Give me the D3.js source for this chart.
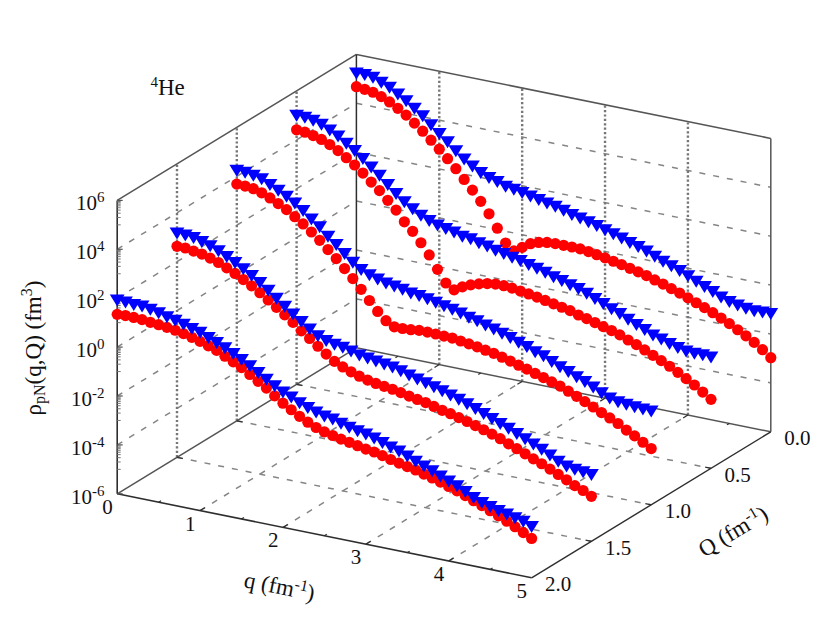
<!DOCTYPE html>
<html><head><meta charset="utf-8">
<script src="https://cdn.jsdelivr.net/npm/d3@7"></script>
<style>
html,body{margin:0;padding:0;background:#fff}
svg{display:block}
text{font-family:"Liberation Serif",serif;fill:#111}
</style></head><body>
<svg id="c" width="830" height="642"></svg>
<script>
// values are log10 of rho_pN, at q = 0, 0.1, ... 5.0
const redQ00 = [4.68,4.64,4.59,4.48,4.33,4.14,3.93,3.67,3.41,3.11,2.81,2.49,2.15,1.78,1.41,1.02,0.58,0.06,-0.48,-0.73,-0.52,-0.30,-0.18,-0.11,-0.09,-0.09,-0.09,-0.10,-0.14,-0.20,-0.26,-0.33,-0.40,-0.48,-0.56,-0.64,-0.75,-0.85,-0.97,-1.08,-1.21,-1.34,-1.47,-1.61,-1.76,-1.92,-2.10,-2.28,-2.48,-2.71,-2.97];
const blueQ00 = [5.23,5.23,5.19,5.05,4.92,4.71,4.50,4.27,4.03,3.73,3.44,3.17,2.87,2.60,2.39,2.19,2.05,1.96,1.83,1.78,1.71,1.64,1.56,1.49,1.43,1.33,1.23,1.15,1.07,0.98,0.88,0.78,0.68,0.56,0.47,0.35,0.21,0.07,-0.05,-0.17,-0.32,-0.47,-0.62,-0.76,-0.91,-1.03,-1.10,-1.17,-1.20,-1.18,-1.17];
const redQ05 = [4.41,4.38,4.31,4.22,4.08,3.90,3.68,3.45,3.19,2.89,2.61,2.28,1.95,1.54,1.22,0.82,0.39,-0.13,-0.62,-0.83,-0.64,-0.49,-0.38,-0.30,-0.25,-0.25,-0.28,-0.33,-0.38,-0.44,-0.51,-0.58,-0.65,-0.72,-0.83,-0.91,-1.00,-1.10,-1.19,-1.30,-1.44,-1.56,-1.71,-1.86,-2.01,-2.17,-2.35,-2.54,-2.73,-2.95,-3.18];
const blueQ05 = [4.99,4.98,4.92,4.83,4.66,4.49,4.26,4.03,3.77,3.49,3.22,2.92,2.62,2.35,2.13,1.93,1.79,1.67,1.60,1.52,1.42,1.38,1.29,1.22,1.12,1.06,0.97,0.91,0.81,0.73,0.63,0.52,0.43,0.33,0.24,0.12,-0.03,-0.17,-0.31,-0.44,-0.60,-0.75,-0.89,-1.04,-1.14,-1.25,-1.35,-1.42,-1.44,-1.44,-1.46];
const redQ10 = [3.68,3.67,3.63,3.53,3.39,3.23,3.05,2.83,2.60,2.34,2.07,1.76,1.46,1.12,0.78,0.41,0.02,-0.36,-0.67,-0.85,-0.85,-0.83,-0.79,-0.79,-0.80,-0.82,-0.83,-0.88,-0.93,-0.98,-1.05,-1.11,-1.20,-1.29,-1.39,-1.48,-1.59,-1.69,-1.80,-1.90,-2.04,-2.18,-2.33,-2.48,-2.64,-2.79,-2.95,-3.15,-3.32,-3.51,-3.70];
const blueQ10 = [4.24,4.22,4.17,4.09,3.93,3.76,3.58,3.38,3.14,2.86,2.61,2.29,2.02,1.72,1.43,1.21,1.06,0.96,0.86,0.81,0.74,0.66,0.62,0.56,0.49,0.41,0.34,0.25,0.15,0.07,-0.03,-0.13,-0.23,-0.34,-0.46,-0.57,-0.71,-0.81,-0.98,-1.12,-1.25,-1.39,-1.52,-1.68,-1.84,-1.99,-2.07,-2.11,-2.14,-2.16,-2.18];
const redQ15 = [2.63,2.63,2.57,2.52,2.42,2.31,2.16,2.00,1.82,1.63,1.42,1.19,0.96,0.72,0.48,0.20,-0.04,-0.29,-0.54,-0.77,-0.93,-1.06,-1.17,-1.26,-1.33,-1.38,-1.43,-1.50,-1.57,-1.64,-1.70,-1.79,-1.88,-1.95,-2.04,-2.13,-2.23,-2.33,-2.44,-2.56,-2.70,-2.83,-2.97,-3.11,-3.24,-3.39,-3.54,-3.69,-3.86,-3.99,-4.16];
const blueQ15 = [3.16,3.15,3.12,3.02,2.91,2.78,2.61,2.44,2.25,2.04,1.82,1.58,1.32,1.06,0.81,0.57,0.33,0.13,0.00,-0.08,-0.14,-0.22,-0.32,-0.37,-0.42,-0.48,-0.53,-0.62,-0.72,-0.82,-0.90,-1.00,-1.09,-1.20,-1.30,-1.42,-1.54,-1.68,-1.81,-1.95,-2.08,-2.22,-2.37,-2.51,-2.66,-2.83,-3.01,-3.14,-3.20,-3.24,-3.28];
const redQ20 = [1.34,1.36,1.35,1.33,1.29,1.26,1.22,1.17,1.10,1.02,0.92,0.81,0.69,0.52,0.36,0.19,-0.02,-0.23,-0.44,-0.69,-0.92,-1.12,-1.32,-1.49,-1.64,-1.75,-1.83,-1.91,-1.97,-2.04,-2.11,-2.16,-2.24,-2.33,-2.41,-2.48,-2.55,-2.65,-2.74,-2.84,-2.95,-3.06,-3.19,-3.33,-3.46,-3.60,-3.74,-3.89,-4.05,-4.22,-4.39];
const blueQ20 = [1.91,1.90,1.87,1.87,1.81,1.74,1.64,1.57,1.47,1.37,1.28,1.14,1.00,0.85,0.69,0.51,0.32,0.12,-0.09,-0.29,-0.47,-0.61,-0.78,-0.90,-1.02,-1.11,-1.17,-1.27,-1.37,-1.44,-1.51,-1.60,-1.72,-1.83,-1.93,-2.06,-2.21,-2.33,-2.46,-2.60,-2.74,-2.87,-3.03,-3.21,-3.34,-3.44,-3.53,-3.61,-3.69,-3.77,-3.91];

const qTicks = [0,1,2,3,4,5];
const qMinor = [0.5,1.5,2.5,3.5,4.5];
const QTicks = [0,0.5,1,1.5,2];
const zTicks = [-6,-4,-2,0,2,4,6];
const zGrid = [-4,-2,0,2,4];
const minorFactors = [10,20,30,40,50,60,70,80,90];
const curveQ = [0,0.5,1,1.5,2];
const reds = [redQ00,redQ05,redQ10,redQ15,redQ20];
const blues = [blueQ00,blueQ05,blueQ10,blueQ15,blueQ20];

const qx = d3.scaleLinear().domain([0,5]).range([0,414.4]);
const qy = d3.scaleLinear().domain([0,5]).range([0,84]);
const Qx = d3.scaleLinear().domain([2,0]).range([0,239.2]);
const Qy = d3.scaleLinear().domain([2,0]).range([0,-146]);
const zy = d3.scaleLinear().domain([-6,6]).range([0,-293.4]);
const ox = 117.2, oy = 493.8;
const P = (q,Q,z) => [ox+qx(q)+Qx(Q), oy+qy(q)+Qy(Q)+zy(z)];

const svg = d3.select('#c');
const line = (g,a,b,stroke,w,dash) => g.append('line')
  .attr('x1',a[0]).attr('y1',a[1]).attr('x2',b[0]).attr('y2',b[1])
  .attr('stroke',stroke).attr('stroke-width',w).attr('stroke-dasharray',dash||null);

const GRID='#858585', BACK='#555', FRONT='#2e2e2e';
const grid = svg.append('g');
// base grid
[1,2,3,4].forEach(q=>line(grid,P(q,2,-6),P(q,0,-6),GRID,1.5,'6 8'));
[0.5,1,1.5].forEach(Q=>line(grid,P(0,Q,-6),P(5,Q,-6),GRID,1.5,'6 8'));
// wall grid
zGrid.forEach(z=>{
  line(grid,P(0,2,z),P(0,0,z),GRID,1.5,'6 8');
  line(grid,P(0,0,z),P(5,0,z),GRID,1.5,'6 8');
});
[0.5,1,1.5].forEach(Q=>line(grid,P(0,Q,-6),P(0,Q,6),'#777',2.4,'2.2 2.2'));
[1,2,3,4].forEach(q=>line(grid,P(q,0,-6),P(q,0,6),'#777',2.4,'2.2 2.2'));

// box
const box = svg.append('g');
line(box,P(0,2,-6),P(0,0,-6),BACK,1.5);
line(box,P(0,0,-6),P(5,0,-6),BACK,1.5);
line(box,P(0,2,6),P(0,0,6),BACK,1.5);
line(box,P(0,0,6),P(5,0,6),BACK,1.5);
line(box,P(0,0,-6),P(0,0,6),FRONT,1.5);
line(box,P(5,0,-6),P(5,0,6),BACK,1.5);
line(box,P(0,2,-6),P(5,2,-6),FRONT,1.6);
line(box,P(5,2,-6),P(5,0,-6),FRONT,1.4);
line(box,P(0,2,-6),P(0,2,6),FRONT,1.6);

// ticks
const tl = 0.04;
qTicks.slice(1,5).forEach(q=>{
  line(box,P(q,2,-6),P(q,2-tl,-6),FRONT,1.2);
  line(box,P(q,0,-6),P(q,tl,-6),FRONT,1.2);
});
qMinor.forEach(q=>{
  line(box,P(q,2,-6),P(q,2-tl/2,-6),FRONT,1.2);
  line(box,P(q,0,-6),P(q,tl/2,-6),FRONT,1.2);
});
QTicks.slice(1,4).forEach(Q=>{
  line(box,P(5,Q,-6),P(4.93,Q,-6),FRONT,1.2);
  line(box,P(0,Q,-6),P(0.07,Q,-6),FRONT,1.2);
});
zTicks.forEach(z=>{
  const p=P(0,2,z);
  line(box,p,[p[0]+5.5,p[1]],'#555',1.2);
  if(z<6) minorFactors.forEach(f=>{
    const zz=z+Math.log10(f);
    const m=P(0,2,zz);
    line(box,m,[m[0]+3.5,m[1]],'#777',1);
  });
});

// markers, back to front
const tri = 'M-7.4,-5.8L7.4,-5.8L0,6.2Z';
const marks = svg.append('g');
curveQ.forEach((Q,k)=>{
  const red = reds[k].map((z,i)=>({q:i/10,z}));
  const blue = blues[k].map((z,i)=>({q:i/10,z}));
  marks.append('g').selectAll('circle').data(red).join('circle')
    .attr('cx',d=>P(d.q,Q,d.z)[0]).attr('cy',d=>P(d.q,Q,d.z)[1])
    .attr('r',5.6).attr('fill','#ff0000');
  marks.append('g').selectAll('path').data(blue).join('path')
    .attr('d',tri).attr('fill','#0000ff')
    .attr('transform',d=>{const p=P(d.q,Q,d.z);return `translate(${p[0]},${p[1]})`;});
});

// labels
const fs=21, sup=15, lab=23, labSup=16;
const labels = svg.append('g').attr('font-size',fs);
zTicks.forEach(z=>{
  const p=P(0,2,z);
  const t=labels.append('text').attr('x',104.5).attr('y',p[1]+10).attr('text-anchor','end');
  t.append('tspan').text('10');
  t.append('tspan').attr('font-size',sup).attr('dy',-8).text(z);
});
qTicks.forEach(q=>{
  const p=P(q,2,-6);
  labels.append('text').attr('x',p[0]-9.8).attr('y',p[1]+20).attr('text-anchor','middle').text(q);
});
QTicks.forEach(Q=>{
  const p=P(5,Q,-6);
  labels.append('text').attr('x',p[0]+13.5).attr('y',p[1]+13.5).text(d3.format('.1f')(Q));
});

function rich(t,parts){
  parts.forEach(([s,dy,size])=>{
    const sp=t.append('tspan').text(s).attr('font-size',size);
    if(dy) sp.attr('dy',dy);
  });
}
rich(labels.append('text').attr('x',150.5).attr('y',95),[['4',-8,sup],['He',8,lab]]);
rich(labels.append('text').attr('text-anchor','middle')
  .attr('transform','translate(278,594) rotate(11.4)'),
  [['q (fm',0,lab],['-1',-8,labSup],[')',8,lab]]);
rich(labels.append('text').attr('text-anchor','middle')
  .attr('transform','translate(737,538) rotate(-31)'),
  [['Q (fm',0,lab],['-1',-8,labSup],[')',8,lab]]);
rich(labels.append('text').attr('text-anchor','middle')
  .attr('transform','translate(41,348) rotate(-90)'),
  [['ρ',0,lab],['pN',4,labSup],['(q,Q) (fm',-4,lab],['3',-9,labSup],[')',9,lab]]);
</script>
</body></html>
